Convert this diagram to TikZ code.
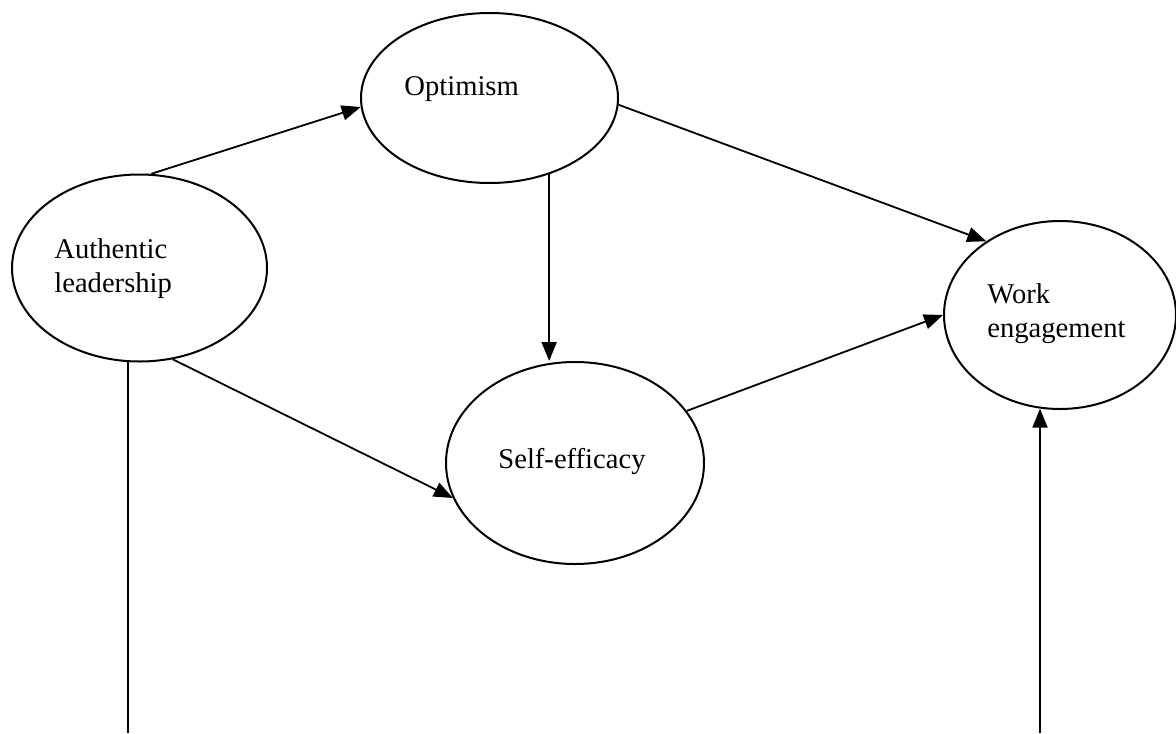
\documentclass[tikz,border=0pt]{standalone}
\usepackage{fontspec}
\setmainfont{Liberation Serif}
\usetikzlibrary{shapes.geometric,arrows.meta}
\begin{document}
\begin{tikzpicture}[x=0.5pt,y=-0.5pt,
  latent/.style={draw,ellipse,line width=1pt,inner sep=0pt},
  lbl/.style={inner sep=0pt,anchor=base west,align=left,font=\fontsize{14.3}{16.8}\selectfont},
  conn/.style={line width=0.9pt},
  arr/.style={conn,-{Triangle[length=9.5pt,width=7.5pt]}}]
\useasboundingbox (0,0) rectangle (1176,733);
\node[latent,minimum width=127.5pt,minimum height=93.5pt] (auth) at (139.5,268) {};
\node[latent,minimum width=128.5pt,minimum height=85pt] (opt) at (489.5,98) {};
\node[latent,minimum width=129pt,minimum height=101pt] (self) at (575,463) {};
\node[latent,minimum width=116pt,minimum height=94pt] (work) at (1060,315) {};
\node[lbl] (tauth) at (54,292) {Authentic\\leadership};
\node[lbl] (topt) at (404,96) {Optimism};
\node[lbl] (tself) at (498,468) {Self-efficacy};
\node[lbl] (twork) at (987,337) {Work\\engagement};
\coordinate (b1) at (128,733);
\coordinate (b2) at (1040,733);
\draw[arr] (auth.83.5) -- (opt.184);
\draw[arr] (opt.-3.1) -- (work.135);
\draw[arr] (opt.-52.3) -- (opt.-52.3 |- self.north);
\draw[arr] (auth.-70.2) -- (self.196.9);
\draw[arr] (self.25.9) -- (work.180);
\draw[conn] (auth.-97) -- (auth.-97 |- b1);
\draw[arr] (b2) -- (b2 |- work.-102.2);
\end{tikzpicture}
\end{document}
